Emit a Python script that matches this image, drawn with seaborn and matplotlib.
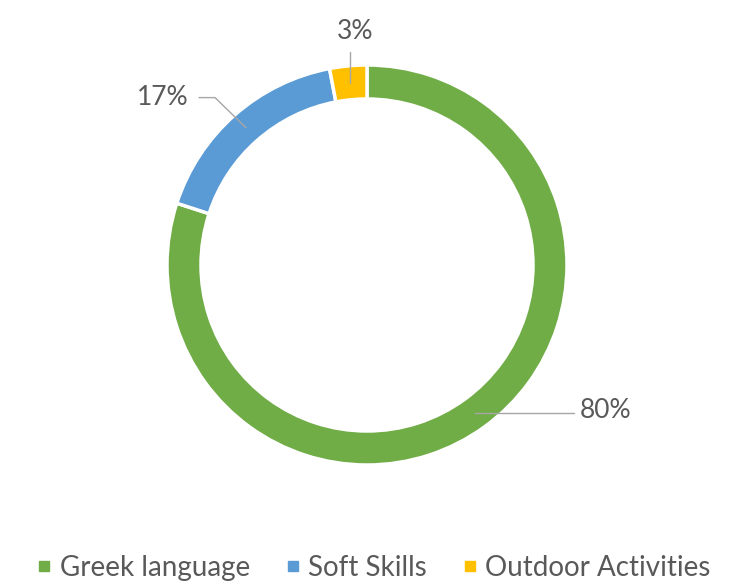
import numpy as np
import matplotlib
matplotlib.use('Agg')
import matplotlib.pyplot as plt
from matplotlib.lines import Line2D
import seaborn as sns

# 데이터
categories = ['Greek language', 'Soft Skills', 'Outdoor Activities']
shares = [80, 17, 3]
labels = ['80%', '17%', '3%']
colors = ['#70AD47', '#5B9BD5', '#FFC000']

sns.set_theme(style='white')
plt.rcParams['font.family'] = ['Lato', 'DejaVu Sans']
text_color = '#595959'

fig = plt.figure(figsize=(7.36, 5.84), dpi=100)
# 도넛 중심 (367, 265) px, 반지름 203 px
half = 250
ax = fig.add_axes([(367 - half) / 736, (584 - 265 - half) / 584, 2 * half / 736, 2 * half / 584])
lim = half / 203
ax.set_xlim(-lim, lim)
ax.set_ylim(-lim, lim)
ax.set_aspect('equal')
ax.axis('off')

ring = 0.17
wedges, _ = ax.pie(shares, colors=colors, startangle=90, counterclock=False,
                   radius=1, wedgeprops=dict(width=ring, edgecolor='white', linewidth=2.5))

# 라벨 위치 (데이터 단위)
text_pos = [(1.066, -0.725), (-0.89, 0.837), (-0.06, 1.167)]
ha_list = ['left', 'right', 'center']
r_mid = 1 - ring / 2
fs = 19
for w, lab, (tx, ty), ha in zip(wedges, labels, text_pos, ha_list):
    ang = np.deg2rad((w.theta1 + w.theta2) / 2)
    px, py = r_mid * np.cos(ang), r_mid * np.sin(ang)
    if ha == 'left':
        ax.plot([px, tx - 0.03], [py, py], color='#A6A6A6', lw=1)
    elif ha == 'right':
        ax.plot([px, tx + 0.13, tx + 0.05], [py, ty, ty], color='#A6A6A6', lw=1)
    else:
        ax.plot([px, px], [py, ty - 0.1], color='#A6A6A6', lw=1)
    ax.text(tx, ty, lab, ha=ha, va='center', fontsize=fs, color=text_color)

handles = [Line2D([0], [0], marker='s', linestyle='none', markersize=7,
                  markerfacecolor=c, markeredgecolor=c) for c in colors]
fig.legend(handles, categories, loc='center', bbox_to_anchor=(374 / 736, 1 - 568 / 584),
           ncol=3, frameon=False, fontsize=20, labelcolor=text_color,
           handlelength=0.5, handletextpad=0.3, columnspacing=1.3,
           borderaxespad=0, borderpad=0)

fig.savefig('out.png', dpi=100)
